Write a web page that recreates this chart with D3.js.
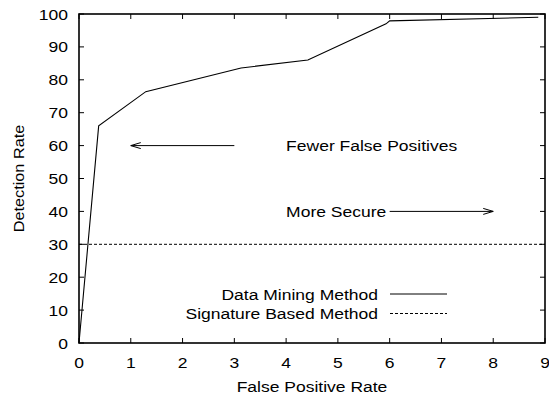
<!DOCTYPE html>
<html>
<head>
<meta charset="utf-8">
<script src="https://cdn.jsdelivr.net/npm/d3@7"></script>
<style>
  body { margin: 0; background: #fff; }
  svg { display: block; font-family: "Liberation Sans", Arial, sans-serif; }
</style>
</head>
<body>
<svg id="chart" width="549" height="396"></svg>
<script>
// data
const miningX = [0, 0.38, 1.29, 3.13, 4.42, 5.93, 6.0, 8.87];
const miningY = [0, 66, 76.4, 83.6, 86.0, 97.0, 97.9, 99.0];
const signatureX = [0, 9];
const signatureY = [30, 30];
const xTicks = [0, 1, 2, 3, 4, 5, 6, 7, 8, 9];
const yTicks = [0, 10, 20, 30, 40, 50, 60, 70, 80, 90, 100];
const legendNames = ['Data Mining Method', 'Signature Based Method'];
// annotation arrows: [x1, y1, x2, y2] in data units
const arrows = [[3, 60, 1, 60], [6, 40, 8, 40]];
const notes = [{ text: 'Fewer False Positives', x: 4, y: 60 }, { text: 'More Secure', x: 4, y: 40 }];

const width = 549, height = 396;
const margin = { top: 14, right: 4, bottom: 53, left: 79 };
const svg = d3.select('#chart');

const x = d3.scaleLinear().domain([0, 9]).range([margin.left, width - margin.right]);
const y = d3.scaleLinear().domain([0, 100]).range([height - margin.bottom, margin.top]);

const tickLen = 5;
const fontSize = 15.5;
const stretch = 1.13; // the original font is a bit wider than Liberation Sans

// text helper: places text at (px,py) and stretches it horizontally
function label(parent, txt, px, py, anchor, rot, sx) {
  return parent.append('text')
    .attr('transform', `translate(${px},${py})${rot ? ` rotate(${rot})` : ''} scale(${sx || stretch},1)`)
    .attr('text-anchor', anchor || 'start')
    .attr('font-size', fontSize)
    .text(txt);
}

// ticks on all four sides, pointing inward
const g = svg.append('g');

g.selectAll('.xt').data(xTicks).enter().append('line')
  .attr('x1', d => x(d)).attr('x2', d => x(d))
  .attr('y1', y(0)).attr('y2', y(0) - tickLen)
  .attr('stroke', '#000');
g.selectAll('.xtt').data(xTicks).enter().append('line')
  .attr('x1', d => x(d)).attr('x2', d => x(d))
  .attr('y1', y(100)).attr('y2', y(100) + tickLen)
  .attr('stroke', '#000');
g.selectAll('.yt').data(yTicks).enter().append('line')
  .attr('x1', x(0)).attr('x2', x(0) + tickLen)
  .attr('y1', d => y(d)).attr('y2', d => y(d))
  .attr('stroke', '#000');
g.selectAll('.ytr').data(yTicks).enter().append('line')
  .attr('x1', x(9)).attr('x2', x(9) - tickLen)
  .attr('y1', d => y(d)).attr('y2', d => y(d))
  .attr('stroke', '#000');

// tick labels
xTicks.forEach(d => label(g, d, x(d), y(0) + 25, 'middle'));
yTicks.forEach(d => label(g, d, x(0) - 11, y(d) + 5.5, 'end'));

// axis titles
label(svg, 'False Positive Rate', (x(0) + x(9)) / 2, 392, 'middle');
label(svg, 'Detection Rate', 24, (y(0) + y(100)) / 2, 'middle', -90, 1.05);

// series
const line = d3.line().x(d => x(d[0])).y(d => y(d[1]));
svg.append('path')
  .datum(d3.zip(signatureX, signatureY))
  .attr('d', line)
  .attr('fill', 'none').attr('stroke', '#000').attr('stroke-width', 1)
  .attr('stroke-dasharray', '3,2');
svg.append('path')
  .datum(d3.zip(miningX, miningY))
  .attr('d', line)
  .attr('fill', 'none').attr('stroke', '#000').attr('stroke-width', 1.1);

// arrows with open gnuplot-style heads
arrows.forEach(a => {
  const x1 = x(a[0]), y1 = y(a[1]), x2 = x(a[2]), y2 = y(a[3]);
  svg.append('line')
    .attr('x1', x1).attr('y1', y1).attr('x2', x2).attr('y2', y2)
    .attr('stroke', '#000').attr('stroke-width', 1);
  const dir = Math.sign(x2 - x1);
  svg.append('path')
    .attr('d', `M${x2 - dir * 10},${y2 - 3}L${x2},${y2}L${x2 - dir * 10},${y2 + 3}`)
    .attr('fill', 'none').attr('stroke', '#000').attr('stroke-width', 1);
});
notes.forEach(n => label(svg, n.text, x(n.x), y(n.y) + 5.5));

// legend
const legend = svg.append('g');
legendNames.forEach((name, i) => {
  const ly = 294 + i * 19.5;
  label(legend, name, 378, ly + 5.5, 'end');
  legend.append('line')
    .attr('x1', 390).attr('x2', 447).attr('y1', ly).attr('y2', ly)
    .attr('stroke', '#000').attr('stroke-width', 1)
    .attr('stroke-dasharray', i === 1 ? '3,2' : null);
});

// frame
svg.append('rect')
  .attr('x', x(0)).attr('y', y(100))
  .attr('width', x(9) - x(0)).attr('height', y(0) - y(100))
  .attr('fill', 'none').attr('stroke', '#000').attr('stroke-width', 1.6);
</script>
</body>
</html>
